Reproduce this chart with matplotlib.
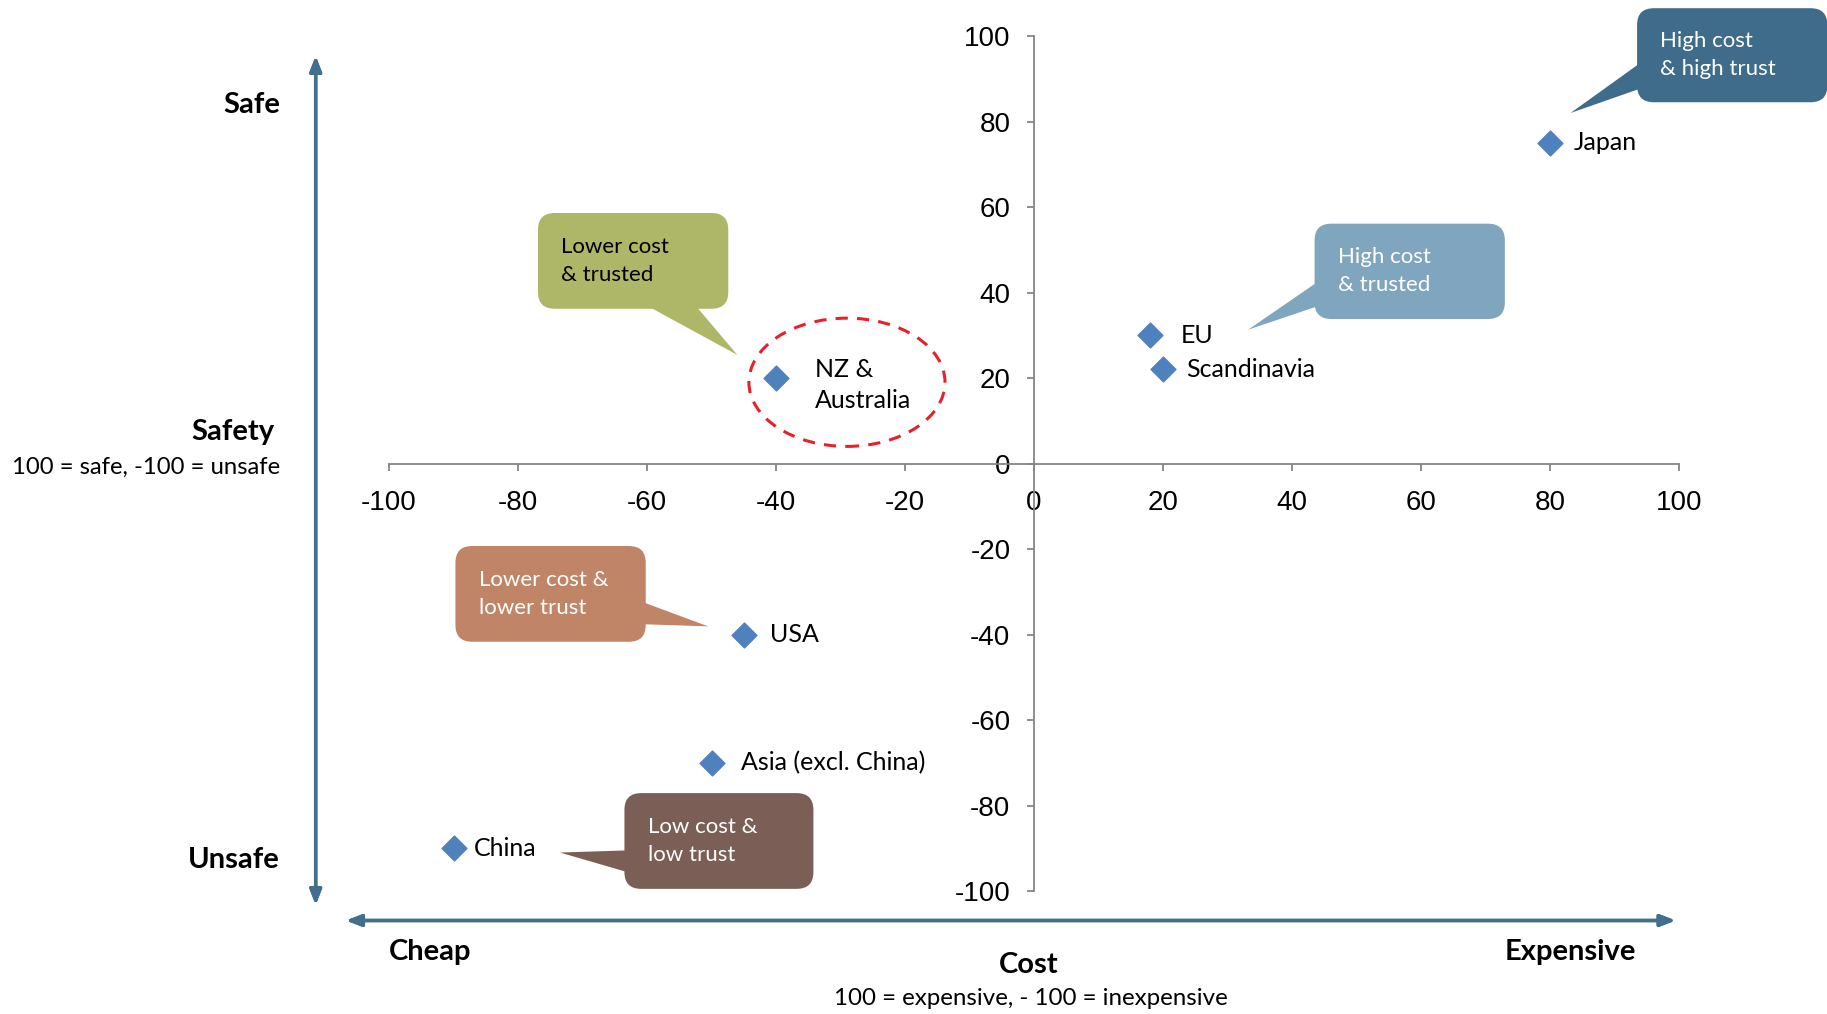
import matplotlib
matplotlib.use("Agg")
import matplotlib.pyplot as plt
from matplotlib.patches import FancyBboxPatch, Polygon, Ellipse

plt.rcParams["axes.unicode_minus"] = False

# data
regions = ["Japan", "EU", "Scandinavia", "NZ &\nAustralia", "USA", "Asia (excl. China)", "China"]
cost = [80, 18, 20, -40, -45, -50, -90]
safety = [75, 30, 22, 20, -40, -70, -90]
ticks = [-100, -80, -60, -40, -20, 0, 20, 40, 60, 80, 100]

callout_text = ["High cost\n& high trust", "High cost\n& trusted", "Lower cost\n& trusted",
                "Lower cost &\nlower trust", "Low cost &\nlow trust"]

# label offsets in points (layout only)
label_dx = [17, 22, 17, 28, 19, 21, 15]
label_dy = [0, 0, 0, -5, 0, 0, 0]

# callout layout (data units): box (x0, x1, y0, y1), tail (base1, base2, tip)
callout_box = [(93.5, 123, 84.5, 106.5), (43.5, 73, 33.8, 56.1), (-76.9, -47.4, 36.2, 58.6),
               (-89.7, -60.2, -41.7, -19.3), (-63.5, -34.2, -99.5, -77.1)]
callout_tail = [[(94, 93.7), (94, 87.7), (83.2, 82)],
                [(44, 42.5), (44, 36.8), (33.2, 31.3)],
                [(-60.1, 37), (-52.5, 37), (-46, 25.4)],
                [(-60.7, -32.4), (-60.7, -37.6), (-50.5, -38.1)],
                [(-63, -90.5), (-63, -95.6), (-73.5, -91)]]
callout_color = ["#3E6C8A", "#7FA5BF", "#AEB667", "#C08566", "#7B5E55"]
callout_fg = ["white", "white", "black", "white", "white"]

body = "Lato"
tickfont = "Liberation Sans"

fig = plt.figure(figsize=(18.27, 10.14), dpi=100)
ax = fig.add_axes([389 / 1827, 1 - 891 / 1014, 1290 / 1827, 855 / 1014])
ax.set_xlim(-100, 100)
ax.set_ylim(-100, 100)

for s in ["top", "right"]:
    ax.spines[s].set_visible(False)
ax.spines["left"].set_position("zero")
ax.spines["bottom"].set_position("zero")
for s in ["left", "bottom"]:
    ax.spines[s].set_color("#868686")
    ax.spines[s].set_linewidth(1.3)
ax.set_xticks(ticks)
ax.set_yticks(ticks)
ax.tick_params(direction="out", length=5, width=1.3, color="#868686", pad=12,
               labelsize=20, labelfontfamily=tickfont)
ax.tick_params(axis="x", pad=14)

# markers + labels
ax.scatter(cost, safety, marker="D", s=160, color="#4F81BD", zorder=5, clip_on=False)
for x, y, name, dx, dy in zip(cost, safety, regions, label_dx, label_dy):
    ax.annotate(name, (x, y), xytext=(dx, dy), textcoords="offset points", ha="left", va="center",
                fontsize=18, family=body, linespacing=1.45)

# dashed ellipse round NZ & Australia
ax.add_patch(Ellipse((-29, 19), 30.4, 30, fill=False, ls=(0, (4, 3)), lw=2.2,
                     edgecolor="#E8202A", zorder=4))

# callouts
aspect = (1290 / 200) / (855 / 200)
for txt, (x0, x1, y0, y1), tail, c, fg in zip(callout_text, callout_box, callout_tail,
                                               callout_color, callout_fg):
    ax.add_patch(FancyBboxPatch((x0, y0), x1 - x0, y1 - y0,
                                boxstyle="round,pad=0,rounding_size=2.6",
                                mutation_aspect=aspect, facecolor=c, edgecolor="none",
                                clip_on=False, zorder=6))
    ax.add_patch(Polygon(tail, closed=True, facecolor=c, edgecolor="none", clip_on=False, zorder=6))
    ax.text(x0 + 3.6, (y0 + y1) / 2, txt, ha="left", va="center", color=fg, fontsize=16,
            family=body, linespacing=1.5, zorder=7)

# outer arrows
arrow = dict(arrowstyle="<|-|>,head_length=0.9,head_width=0.35", color="#41708F", lw=2.5,
             shrinkA=0, shrinkB=0)
fig.add_artist(plt.annotate("", xy=(0.1728, 0.9448), xytext=(0.1728, 0.1075),
                            xycoords="figure fraction", arrowprops=arrow))
fig.add_artist(plt.annotate("", xy=(0.9171, 0.0922), xytext=(0.1894, 0.0922),
                            xycoords="figure fraction", arrowprops=arrow))

bold = dict(fontsize=21, fontweight="bold", family=body)
fig.text(0.1533, 0.8965, "Safe", ha="right", va="center", **bold)
fig.text(0.150, 0.574, "Safety", ha="right", va="center", **bold)
fig.text(0.1533, 0.5394, "100 = safe, -100 = unsafe", ha="right", va="center",
         fontsize=17.2, family=body)
fig.text(0.1533, 0.152, "Unsafe", ha="right", va="center", **bold)
fig.text(0.2353, 0.0611, "Cheap", ha="center", va="center", **bold)
fig.text(0.563, 0.0483, "Cost", ha="center", va="center", **bold)
fig.text(0.5643, 0.0153, "100 = expensive, - 100 = inexpensive", ha="center", va="center",
         fontsize=17.4, family=body)
fig.text(0.8596, 0.0611, "Expensive", ha="center", va="center", **bold)

fig.savefig("out.png", dpi=100)
